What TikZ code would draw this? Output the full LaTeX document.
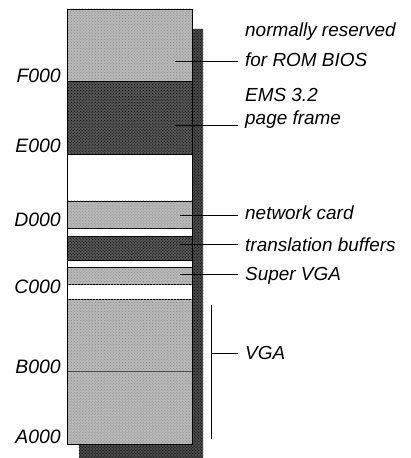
\documentclass[tikz,border=0pt]{standalone}
\usepackage{fontspec}
\setmainfont{Liberation Sans}
\usepackage{xcolor}
\usepackage{tikz}
\usetikzlibrary{patterns}
\definecolor{lightfill}{HTML}{B8B8B8}
\definecolor{darkfill}{HTML}{555555}
\definecolor{shadowfill}{HTML}{4A4A4A}
\tikzset{
  light band/.style={
    draw=black,
    line width=0.5pt,
    fill=lightfill,
    postaction={pattern=crosshatch dots, pattern color=black!45}
  },
  dark band/.style={
    draw=black,
    line width=0.5pt,
    fill=darkfill,
    postaction={pattern=crosshatch dots, pattern color=black}
  },
  shadow/.style={
    fill=shadowfill,
    postaction={pattern=crosshatch dots, pattern color=black}
  },
  address/.style={
    anchor=east,
    inner sep=0pt,
    font=\itshape\fontsize{19.5}{21}\selectfont
  },
  region label/.style={
    anchor=west,
    inner sep=0pt,
    align=left,
    font=\itshape\fontsize{19}{22}\selectfont
  },
  leader/.style={
    draw=black,
    line width=0.5pt,
    shorten >=7bp
  }
}

\begin{document}
\begin{tikzpicture}[x=1bp,y=-1bp]
  \useasboundingbox (0,0) rectangle (410,458);

  % shadow behind the column
  \fill[shadow] (192,29) -- (203,29) -- (203,458) -- (79,458) -- (79,444) -- (192,444) -- cycle;

  % memory column
  \fill[white] (67,9) rectangle (192,444);
  \draw[light band] (67,9) rectangle (192,81.5);
  \draw[dark band] (67,81.5) rectangle (192,154);
  \draw[light band] (67,201) rectangle (192,228);
  \draw[dark band] (67,236) rectangle (192,260);
  \draw[light band] (67,267) rectangle (192,284);
  \draw[light band] (67,299) rectangle (192,444);
  \draw[line width=0.4pt,black!70] (67,371.5) -- (192,371.5);
  \draw[line width=0.5pt] (67,9) rectangle (192,444);

  % addresses
  \node[address] (F000) at (61,76) {F000};
  \node[address] (E000) at (61,146) {E000};
  \node[address] (D000) at (61,220) {D000};
  \node[address] (C000) at (61,287) {C000};
  \node[address] (B000) at (61,367) {B000};
  \node[address] (A000) at (61,437) {A000};

  % region labels
  \node[region label] (rom) at (245,45) {normally reserved\\[8bp]for ROM BIOS};
  \node[region label] (ems) at (245,108) {EMS 3.2\\[1bp]page frame};
  \node[region label] (net) at (245,213) {network card};
  \node[region label] (xlat) at (245,245) {translation buffers};
  \node[region label] (svga) at (245,276) {Super VGA};
  \node[region label] (vga) at (245,353) {VGA};

  \coordinate (rom-in) at (175,61);
  \coordinate (ems-in) at (175,125);
  \coordinate (net-in) at (180,215);
  \coordinate (xlat-in) at (180,244);
  \coordinate (svga-in) at (180,274);
  \coordinate (vga-top) at (211,305);
  \coordinate (vga-bot) at (211,439);
  \coordinate (vga-in) at (211,353);

  \draw[leader] (rom-in) -- (rom-in -| rom.west);
  \draw[leader] (ems-in) -- (ems-in -| ems.west);
  \draw[leader] (net-in) -- (net-in -| net.west);
  \draw[leader] (xlat-in) -- (xlat-in -| xlat.west);
  \draw[leader] (svga-in) -- (svga-in -| svga.west);
  \draw[leader,shorten >=0pt] (vga-top) -- (vga-bot);
  \draw[leader] (vga-in) -- (vga-in -| vga.west);
\end{tikzpicture}
\end{document}
